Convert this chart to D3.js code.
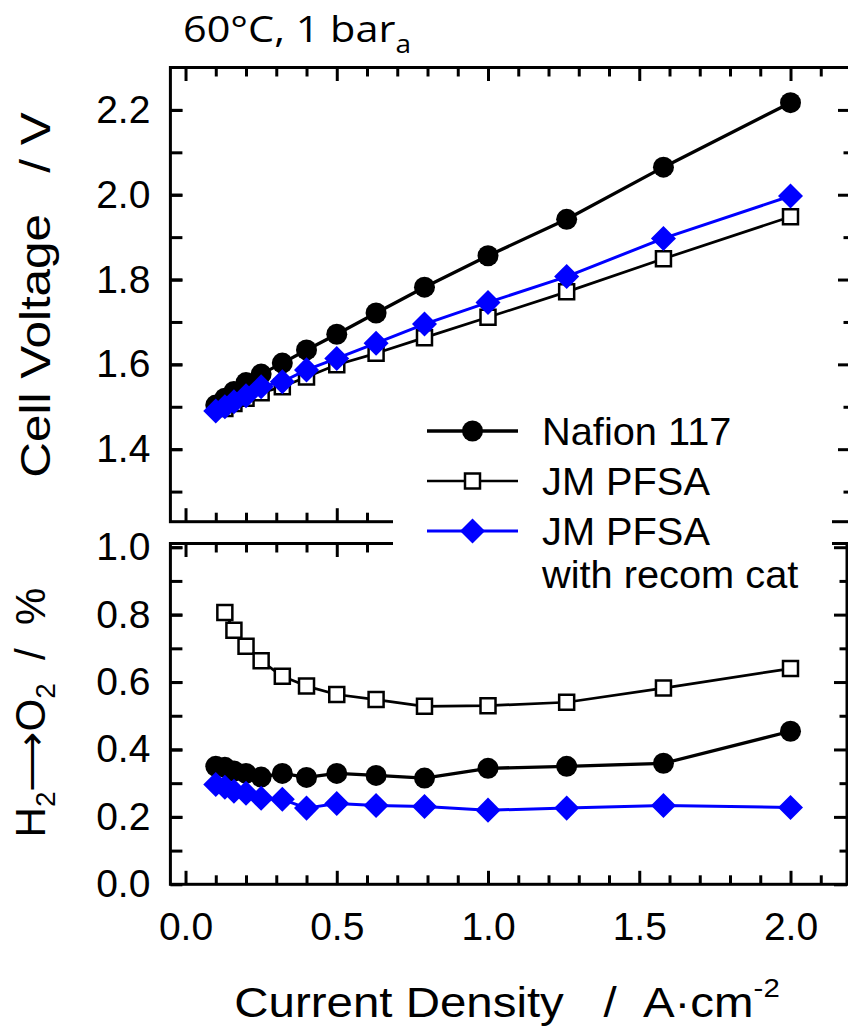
<!DOCTYPE html>
<meta charset="utf-8">
<script src="https://d3js.org/d3.v7.min.js"></script>
<style>
    body { margin: 0; background: #fff; }
    text { font-family: "Liberation Sans", Arial, sans-serif; fill: #000; }
    .line { fill: none; stroke-linejoin: round; }
    .frame { fill: none; stroke: #000; stroke-width: 3; }
</style>
<body>
<div id="chart"></div>
<script>

    // current density (A/cm2)
    var current = [0.1, 0.13, 0.16, 0.2, 0.25, 0.32, 0.4, 0.5, 0.63, 0.79, 1.0, 1.26, 1.58, 2.0]
    var currentJM = [0.13, 0.16, 0.2, 0.25, 0.32, 0.4, 0.5, 0.63, 0.79, 1.0, 1.26, 1.58, 2.0]

    // cell voltage (V)
    var voltNafion = [1.504, 1.520, 1.536, 1.557, 1.577, 1.603, 1.634, 1.671, 1.721, 1.782, 1.856, 1.942, 2.065, 2.217]
    var voltJM = [1.496, 1.508, 1.520, 1.533, 1.547, 1.570, 1.599, 1.626, 1.663, 1.711, 1.771, 1.849, 1.948]
    var voltJMcat = [1.490, 1.500, 1.512, 1.526, 1.547, 1.559, 1.587, 1.614, 1.650, 1.695, 1.746, 1.807, 1.897, 1.997]

    // H2 in O2 (%)
    var h2Nafion = [0.350, 0.347, 0.336, 0.329, 0.318, 0.329, 0.317, 0.329, 0.323, 0.315, 0.344, 0.350, 0.359, 0.454]
    var h2JM = [0.806, 0.754, 0.706, 0.663, 0.617, 0.588, 0.563, 0.548, 0.528, 0.530, 0.540, 0.582, 0.640]
    var h2JMcat = [0.296, 0.288, 0.276, 0.270, 0.255, 0.252, 0.226, 0.240, 0.234, 0.231, 0.220, 0.226, 0.234, 0.228]

    var xTicks = [0, 0.5, 1.0, 1.5, 2.0]
    var voltTicks = [1.4, 1.6, 1.8, 2.0, 2.2]
    var h2Ticks = [0, 0.2, 0.4, 0.6, 0.8, 1.0]
    var legendLabels = ["Nafion 117", "JM PFSA", "JM PFSA"]

    var font = "Liberation Sans, Arial, sans-serif"
    var svg = d3.select("#chart").append("svg").attr("width", 848).attr("height", 1030)

    var x = d3.scaleLinear().domain([-0.05, 2.2]).range([170.4, 851])
    var yTop = d3.scaleLinear().domain([1.229, 2.3]).range([521.7, 67.5])
    var yBot = d3.scaleLinear().domain([0, 1.011]).range([884.3, 543.5])

    var xMinor = d3.range(1, 22).map(d => d / 10).filter(d => xTicks.indexOf(d) < 0)
    var voltAll = d3.range(13, 23).map(d => d / 10)
    var voltMinor = voltAll.filter(d => voltTicks.indexOf(d) < 0)
    var h2All = d3.range(1, 11).map(d => d / 10)
    var h2Minor = h2All.filter(d => h2Ticks.indexOf(d) < 0)
    var fmt = d3.format(".1f")

    function drawAxis(axis, tx, ty) {
        var g = svg.append("g").attr("transform", "translate(" + tx + "," + ty + ")").call(axis)
        g.select(".domain").remove()
        g.attr("font-size", 39).attr("font-family", font)
        g.selectAll(".tick line").attr("stroke-width", 3)
        return g
    }

    function panel(y, top, bottom, right, majors, all, minors, labelBottom) {
        // bottom ticks
        drawAxis(d3.axisBottom(x).tickValues(xTicks).tickSize(-13.5).tickPadding(28).tickFormat(labelBottom ? fmt : ""), 0, bottom)
        drawAxis(d3.axisBottom(x).tickValues(xMinor).tickSize(-9).tickFormat(""), 0, bottom)
        // top ticks
        drawAxis(d3.axisTop(x).tickValues(xTicks).tickSize(-13.5).tickFormat(""), 0, top)
        drawAxis(d3.axisTop(x).tickValues(xMinor).tickSize(-9).tickFormat(""), 0, top)
        // left ticks
        drawAxis(d3.axisLeft(y).tickValues(majors).tickSize(-12).tickPadding(20).tickFormat(fmt), 170.4, 0)
        drawAxis(d3.axisLeft(y).tickValues(all).tickSize(-12).tickFormat(""), 170.4, 0)
        // right ticks
        drawAxis(d3.axisRight(y).tickValues(majors).tickSize(-13).tickFormat(""), right, 0)
        drawAxis(d3.axisRight(y).tickValues(minors).tickSize(-7.5).tickFormat(""), right, 0)

        svg.append("rect").attr("class", "frame").attr("x", 170.4).attr("y", top)
            .attr("width", right - 170.4).attr("height", bottom - top)
    }

    panel(yTop, 67.5, 521.7, 851, voltTicks, voltAll, voltMinor, false)
    panel(yBot, 543.5, 884.3, 847, h2Ticks, h2All, h2Minor, true)

    var circle = d3.symbol().type(d3.symbolCircle).size(Math.PI * 10.5 * 10.5)
    var square = d3.symbol().type(d3.symbolSquare).size(15 * 15)
    var diamond = d3.symbol().type(d3.symbolSquare).size(17.7 * 17.7)

    var styles = [
        {color: "#000", width: 3.3, sym: circle, fill: "#000", stroke: "none", rot: 0},
        {color: "#000", width: 2.7, sym: square, fill: "#fff", stroke: "#000", rot: 0},
        {color: "#0000ff", width: 3, sym: diamond, fill: "#0000ff", stroke: "none", rot: 45}
    ]

    function series(xs, ys, y, s) {
        var pts = xs.map((d, i) => [x(d), y(ys[i])])
        var g = svg.append("g")
        g.append("path").attr("class", "line").attr("d", d3.line()(pts))
            .style("stroke", s.color).style("stroke-width", s.width)
        g.selectAll("path.mark").data(pts).enter().append("path").attr("class", "mark")
            .attr("d", s.sym)
            .attr("transform", d => "translate(" + d[0] + "," + d[1] + ") rotate(" + s.rot + ")")
            .style("fill", s.fill).style("stroke", s.stroke).style("stroke-width", 2.5)
    }

    series(current, voltNafion, yTop, styles[0])
    series(currentJM, voltJM, yTop, styles[1])
    series(current, voltJMcat, yTop, styles[2])
    series(current, h2Nafion, yBot, styles[0])
    series(currentJM, h2JM, yBot, styles[1])
    series(current, h2JMcat, yBot, styles[2])

    // legend, with a white box over the axes
    svg.append("rect").attr("x", 393).attr("y", 400).attr("width", 439).attr("height", 205).style("fill", "#fff")
    legendLabels.forEach((label, i) => {
        var s = styles[i]
        var ly = 431 + 50 * i
        svg.append("line").attr("x1", 427).attr("x2", 518).attr("y1", ly).attr("y2", ly)
            .style("stroke", s.color).style("stroke-width", s.width)
        svg.append("path").attr("d", s.sym).attr("transform", "translate(472.5," + ly + ") rotate(" + s.rot + ")")
            .style("fill", s.fill).style("stroke", s.stroke).style("stroke-width", 2.5)
        svg.append("text").attr("transform", "translate(542," + (ly + 14) + ") scale(1.02,1)").text(label).style("font-size", "39px")
    })
    svg.append("text").attr("transform", "translate(542,588) scale(1.02,1)").text("with recom cat").style("font-size", "39px")

    // title
    var title = svg.append("text").attr("transform", "translate(183,41.7) scale(1.12,1)")
        .style("font-family", "Open Sans").style("font-size", "37px")
    title.append("tspan").text("60°C, 1 bar")
    title.append("tspan").attr("dy", 11).style("font-size", "25px").text("a")

    // x axis title
    var xt = svg.append("text").attr("transform", "translate(507,1016.7) scale(1.13,1)")
        .style("text-anchor", "middle").style("font-size", "42px")
    xt.append("tspan").text("Current Density\u00a0\u00a0\u00a0/\u00a0\u00a0A·cm")
    xt.append("tspan").attr("dy", -20).style("font-size", "26px").text("-2")

    // y axis titles
    svg.append("text").attr("transform", "translate(49.5,295) rotate(-90) scale(1.15,1)")
        .style("text-anchor", "middle").style("font-size", "43px")
        .text("Cell Voltage\u00a0\u00a0\u00a0/\u00a0V")

    var yt = svg.append("text").attr("transform", "translate(45,712.5) rotate(-90)")
        .style("text-anchor", "middle").style("font-size", "42px")
    yt.append("tspan").text("H")
    yt.append("tspan").attr("dy", 10).style("font-size", "28px").text("2")
    yt.append("tspan").attr("dy", -10).text("⟶O")
    yt.append("tspan").attr("dy", 10).style("font-size", "28px").text("2")
    yt.append("tspan").attr("dy", -10).text("\u00a0\u00a0/\u00a0\u00a0%")

</script>
</body>
</html>
